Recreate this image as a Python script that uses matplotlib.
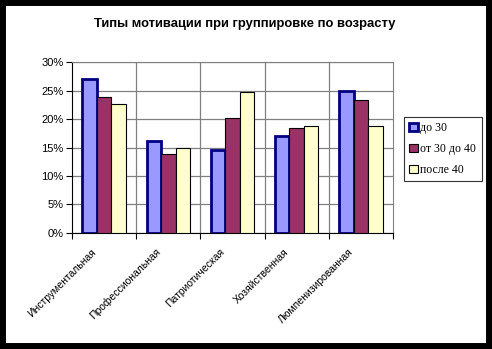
#!/usr/bin/env python3
# coding: utf-8

import numpy as np
import matplotlib
matplotlib.use('Agg')
import matplotlib.pyplot as plt
import matplotlib.transforms as mtransforms
from matplotlib.patches import Rectangle
from matplotlib.ticker import MultipleLocator, PercentFormatter

plt.rcParams['font.family'] = ['Liberation Sans', 'DejaVu Sans']

# Motivation types and shares (%) per age group
categories = ['Инструментальная', 'Профессиональная', 'Патриотическая',
              'Хозяйственная', 'Люмпенизированная']
under_30 = [27.1, 16.1, 14.5, 17.0, 24.9]
from_30_to_40 = [23.9, 13.9, 20.1, 18.5, 23.3]
over_40 = [22.6, 14.9, 24.7, 18.7, 18.7]
series_names = ['до 30', 'от 30 до 40', 'после 40']

title = 'Типы мотивации при группировке по возрасту'


def main():
  fig = plt.figure(figsize=(4.92, 3.49), dpi=100)
  ax = fig.add_axes([0.1463, 0.3324, 0.6525, 0.4899])

  x = np.arange(len(categories))
  w = 0.226
  b1 = ax.bar(x - w, under_30, w, color='#9999FF', edgecolor='#000080', lw=2.0, zorder=3)
  b2 = ax.bar(x, from_30_to_40, w, color='#993366', edgecolor='black', lw=0.8, zorder=3)
  b3 = ax.bar(x + w, over_40, w, color='#FFFFCC', edgecolor='black', lw=0.8, zorder=3)

  ax.set_xlim(-0.5, len(categories) - 0.5)
  ax.set_ylim(0, 30)
  ax.yaxis.set_major_locator(MultipleLocator(5))
  ax.yaxis.set_major_formatter(PercentFormatter(decimals=0))

  # gridlines: horizontal at ticks, vertical at category boundaries
  ax.grid(axis='y', color='#808080', lw=0.9, zorder=0)
  for xb in np.arange(0.5, len(categories) - 0.5, 1.0):
    ax.axvline(xb, color='#808080', lw=0.9, zorder=0)

  ax.set_xticks(np.arange(-0.5, len(categories), 1.0))
  ax.set_xticklabels([])
  ax.set_xticks(x, minor=True)
  ax.set_xticklabels(categories, minor=True, rotation=45, ha='right',
                     rotation_mode='anchor', fontsize=7.5)
  ax.tick_params(axis='x', which='minor', length=0, pad=12)
  ax.tick_params(axis='x', which='major', direction='out', length=4, width=0.8)
  ax.tick_params(axis='y', direction='out', length=4, width=0.8, labelsize=8, pad=2)

  # category names sit a little to the left of the bar groups
  shift = mtransforms.ScaledTranslation(-13 / 100, 3 / 100, fig.dpi_scale_trans)
  for lab in ax.get_xticklabels(minor=True):
    lab.set_transform(lab.get_transform() + shift)

  ax.spines['top'].set_color('#808080')
  ax.spines['right'].set_color('#808080')
  ax.spines['left'].set_color('black')
  ax.spines['bottom'].set_color('black')

  fig.text(0.498, 0.930, title, ha='center', va='center', fontsize=9.4, fontweight='bold')

  leg = fig.legend([b1, b2, b3], series_names, loc='upper left',
                   bbox_to_anchor=(0.821, 0.665), borderaxespad=0,
                   prop={'family': 'Liberation Serif', 'size': 8.5},
                   frameon=True, fancybox=False,
                   handlelength=0.7, handleheight=0.7, handletextpad=0.25,
                   labelspacing=0.75, borderpad=0.45)
  leg.get_frame().set_edgecolor('black')
  leg.get_frame().set_linewidth(0.8)

  # black frame round the whole picture
  fig.patches.append(Rectangle((0, 0), 1, 1, transform=fig.transFigure,
                               fill=False, edgecolor='black', lw=8.6))

  plt.savefig('out.png', dpi=100)


if __name__ == "__main__":
  main()
